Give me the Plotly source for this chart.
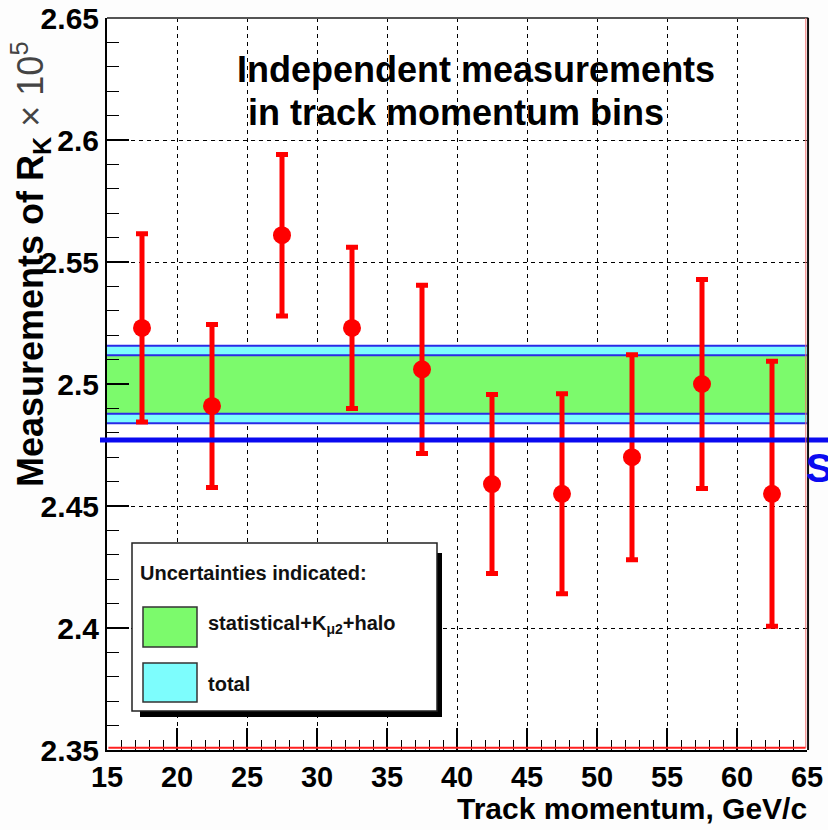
import plotly.graph_objects as go

# Track momentum bin centres (GeV/c) and the R_K measurement in each bin (x 1e5)
momentum = [17.5, 22.5, 27.5, 32.5, 37.5, 42.5, 47.5, 52.5, 57.5, 62.5]
rk_values = [2.523, 2.491, 2.561, 2.523, 2.506, 2.459, 2.455, 2.470, 2.500, 2.455]
rk_errors = [0.0386, 0.0334, 0.0331, 0.0330, 0.0345, 0.0367, 0.0410, 0.0420, 0.0428, 0.0543]

# Combined result: central value with statistical(+K_mu2+halo) and total uncertainty
combined = 2.4998
err_stat = 0.0120
err_total = 0.0159
sm_value = 2.477

x_range = [15, 65]
y_range = [2.35, 2.65]
x_ticks = [15, 20, 25, 30, 35, 40, 45, 50, 55, 60, 65]
y_ticks = [2.35, 2.4, 2.45, 2.5, 2.55, 2.6, 2.65]

FONT = "Liberation Sans, Arial, Helvetica, sans-serif"
GREEN = "#7cfa6c"
CYAN = "#7dfdfd"
EDGE_BLUE = "#2a2ae6"
SM_BLUE = "#0a0af0"

fig = go.Figure()

fig.add_trace(go.Scatter(
    x=momentum, y=rk_values, mode="markers",
    marker=dict(color="#ff0000", size=18, symbol="circle"),
    error_y=dict(type="data", array=rk_errors, color="#ff0000", thickness=5, width=6),
    showlegend=False, hoverinfo="x+y",
))

shapes = []
# total-uncertainty band (cyan) with the statistical band (green) on top
shapes.append(dict(type="rect", xref="x", yref="y", x0=x_range[0], x1=x_range[1],
                   y0=combined - err_total, y1=combined + err_total,
                   fillcolor=CYAN, line=dict(width=0), layer="between"))
shapes.append(dict(type="rect", xref="x", yref="y", x0=x_range[0], x1=x_range[1],
                   y0=combined - err_stat, y1=combined + err_stat,
                   fillcolor=GREEN, line=dict(width=0), layer="between"))
for yv in [combined - err_total, combined + err_total, combined - err_stat, combined + err_stat]:
    shapes.append(dict(type="line", xref="x", yref="y", x0=x_range[0], x1=x_range[1],
                       y0=yv, y1=yv, line=dict(color=EDGE_BLUE, width=2), layer="between"))

# Standard Model expectation, running past the frame on both sides
shapes.append(dict(type="line", xref="paper", yref="y", x0=-0.01, x1=1.05,
                   y0=sm_value, y1=sm_value, line=dict(color=SM_BLUE, width=5), layer="above"))

# frame
shapes.append(dict(type="line", xref="paper", yref="paper", x0=0, x1=1.002, y0=1, y1=1,
                   line=dict(color="#555555", width=2)))
shapes.append(dict(type="line", xref="paper", yref="paper", x0=0.9983, x1=0.9983, y0=0.003, y1=1,
                   line=dict(color="#f07070", width=1)))
shapes.append(dict(type="line", xref="paper", yref="paper", x0=1.0015, x1=1.0015, y0=0, y1=1,
                   line=dict(color="#111111", width=2)))
shapes.append(dict(type="line", xref="paper", yref="paper", x0=0.002, x1=0.998, y0=0.003, y1=0.003,
                   line=dict(color="#ff2020", width=2)))

# legend box with drop shadow
def px_x(p):
    return (p - 107) / 700.0

def px_y(p):
    return (750 - p) / 732.0

shapes.append(dict(type="rect", xref="paper", yref="paper",
                   x0=px_x(140), x1=px_x(442), y0=px_y(717), y1=px_y(553),
                   fillcolor="#000000", line=dict(width=0), layer="above"))
shapes.append(dict(type="rect", xref="paper", yref="paper",
                   x0=px_x(132), x1=px_x(437), y0=px_y(711), y1=px_y(543),
                   fillcolor="#ffffff", line=dict(color="#222222", width=1.5), layer="above"))
shapes.append(dict(type="rect", xref="paper", yref="paper",
                   x0=px_x(143), x1=px_x(197), y0=px_y(647), y1=px_y(607),
                   fillcolor=GREEN, line=dict(color="#333333", width=1.5), layer="above"))
shapes.append(dict(type="rect", xref="paper", yref="paper",
                   x0=px_x(143), x1=px_x(197), y0=px_y(702), y1=px_y(663),
                   fillcolor=CYAN, line=dict(color="#333333", width=1.5), layer="above"))

annotations = [
    dict(text="Independent measurements", xref="paper", yref="paper",
         x=px_x(235), y=px_y(69), xanchor="left", yanchor="middle", showarrow=False,
         font=dict(family=FONT, size=36, color="black", weight="bold")),
    dict(text="in track momentum bins", xref="paper", yref="paper",
         x=px_x(246), y=px_y(112), xanchor="left", yanchor="middle", showarrow=False,
         font=dict(family=FONT, size=36, color="black", weight="bold")),
    dict(text="Uncertainties indicated:", xref="paper", yref="paper",
         x=px_x(138), y=px_y(573), xanchor="left", yanchor="middle", showarrow=False,
         font=dict(family=FONT, size=20, color="#111111", weight="bold")),
    dict(text="statistical+K<sub>\u03bc2</sub>+halo", xref="paper", yref="paper",
         x=px_x(206), y=px_y(624), xanchor="left", yanchor="middle", showarrow=False,
         font=dict(family=FONT, size=20, color="#111111", weight="bold")),
    dict(text="total", xref="paper", yref="paper",
         x=px_x(206), y=px_y(684), xanchor="left", yanchor="middle", showarrow=False,
         font=dict(family=FONT, size=20, color="#111111", weight="bold")),
    dict(text="SM", xref="paper", yref="paper",
         x=px_x(804), y=px_y(468), xanchor="left", yanchor="middle", showarrow=False,
         font=dict(family=FONT, size=40, color=SM_BLUE, weight="bold")),
    dict(text="Track momentum, GeV/c", xref="paper", yref="paper",
         x=px_x(809), y=px_y(808), xanchor="right", yanchor="middle", showarrow=False,
         font=dict(family=FONT, size=30, color="black", weight="bold")),
    dict(text="<b>Measurements of R<sub>K</sub></b> <span style='color:#444444'>\u00d7 10<sup>5</sup></span>",
         xref="paper", yref="paper", x=px_x(30), y=px_y(265), textangle=-90,
         xanchor="center", yanchor="middle", showarrow=False,
         font=dict(family=FONT, size=36, color="black")),
]

fig.update_layout(
    template="none",
    width=828, height=830, autosize=False,
    margin=dict(l=107, r=21, t=18, b=80, autoexpand=False),
    paper_bgcolor="#fdfdfd", plot_bgcolor="#ffffff",
    shapes=shapes, annotations=annotations,
    showlegend=False,
)

fig.update_xaxes(
    automargin=False,
    range=x_range, tickvals=x_ticks, ticktext=[str(v) for v in x_ticks],
    ticks="inside", ticklen=22, tickwidth=1.5, tickcolor="black",
    minor=dict(dtick=1, ticks="inside", ticklen=10, tickcolor="black", tickwidth=1, showgrid=False),
    showline=True, linecolor="black", linewidth=2,
    showgrid=True, gridcolor="black", gridwidth=1, griddash="4px,4px",
    zeroline=False,
    tickfont=dict(family=FONT, size=29, color="black", weight="bold"),
)
fig.update_yaxes(
    automargin=False,
    range=y_range, tickvals=y_ticks, ticktext=[f"{v:g}" for v in y_ticks],
    ticks="inside", ticklen=22, tickwidth=1.5, tickcolor="black",
    minor=dict(dtick=0.01, ticks="inside", ticklen=12, tickcolor="black", tickwidth=1, showgrid=False),
    showline=True, linecolor="black", linewidth=2,
    showgrid=True, gridcolor="black", gridwidth=1, griddash="4px,4px",
    zeroline=False,
    tickfont=dict(family=FONT, size=30, color="black", weight="bold"),
)

fig.write_html("out.html")
